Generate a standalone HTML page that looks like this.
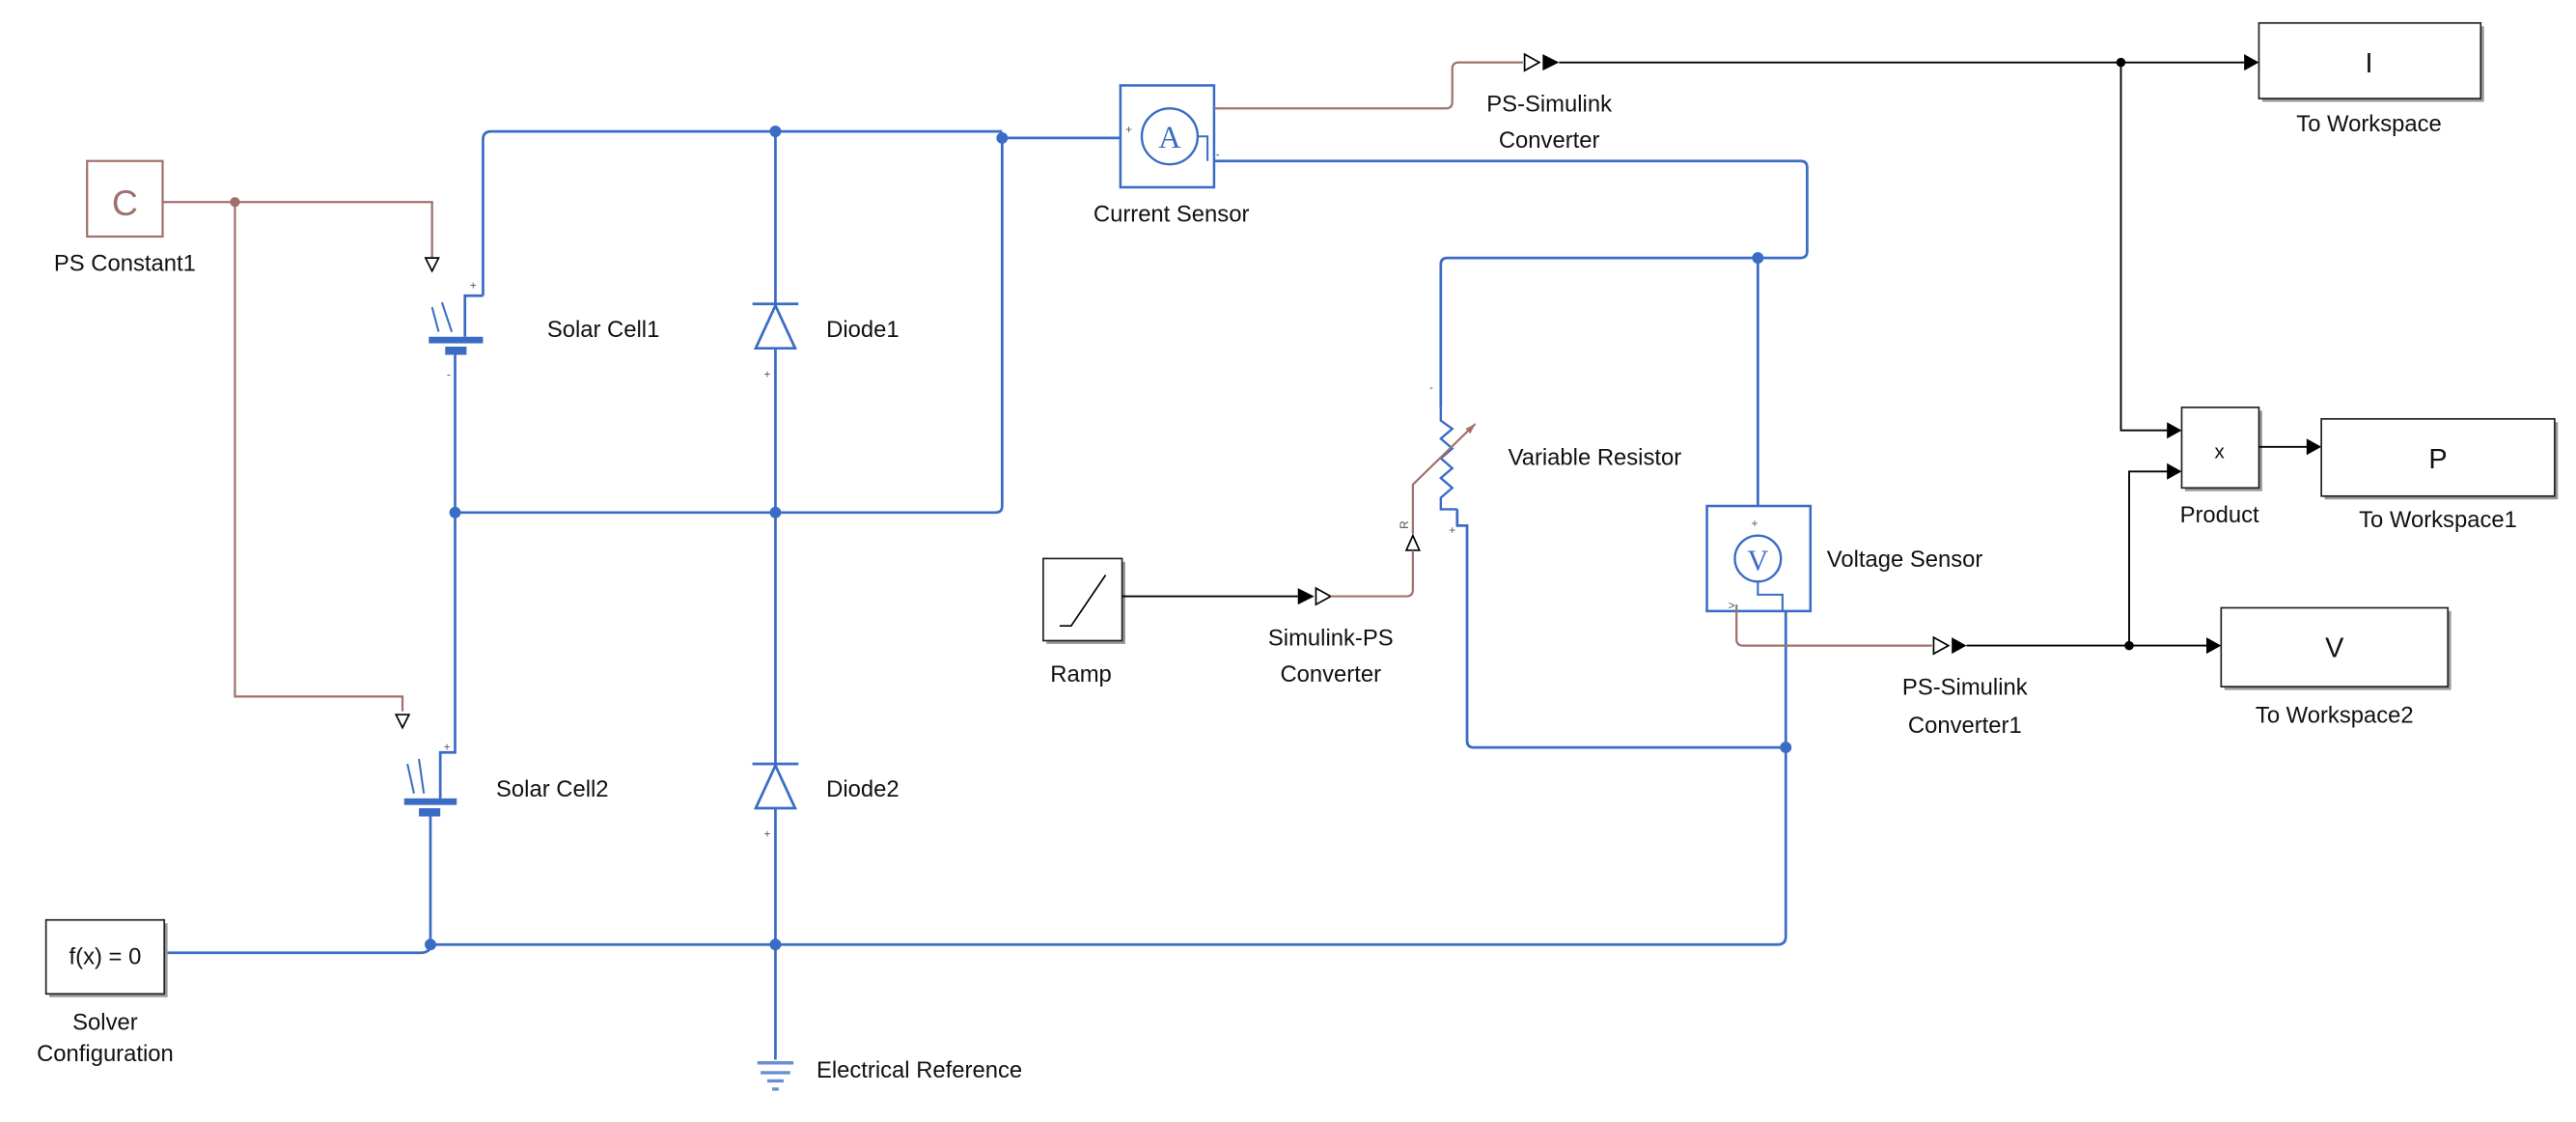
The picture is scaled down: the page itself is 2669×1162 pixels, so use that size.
<!DOCTYPE html>
<html><head><meta charset="utf-8"><style>
html,body{margin:0;padding:0;background:#fff}
svg{display:block}
text{font-family:"Liberation Sans",Arial,sans-serif;font-size:14px;fill:#111}
.b{stroke:#3a6cc6;stroke-width:1.6;fill:none}
.r{stroke:#a0706c;stroke-width:1.3;fill:none}
.k{stroke:#000;stroke-width:1.1;fill:none}
.box{fill:#fff;stroke:#222;stroke-width:1}
.sh{fill:#999}
.sm{font-size:7px;fill:#555}
</style></head><body>
<svg width="2669" height="1162" viewBox="0 0 1568 683" preserveAspectRatio="none" xmlns="http://www.w3.org/2000/svg">
<!-- PS Constant -->
<rect x="53" y="98" width="46" height="46" fill="#fff" stroke="#a0706c" stroke-width="1.3"/>
<text x="76" y="131" text-anchor="middle" style="font-size:22px;fill:#a0706c">C</text>
<text x="76" y="165" text-anchor="middle">PS Constant1</text>
<path class="r" d="M99 123 H263 V157"/>
<path class="r" d="M143 123 V424 H245 V433"/>
<circle cx="143" cy="123" r="3" fill="#a0706c"/>
<path d="M259 157 L267 157 L263 165 Z" fill="#fff" stroke="#000" stroke-width="1"/>
<path d="M241 435 L249 435 L245 443 Z" fill="#fff" stroke="#000" stroke-width="1"/>

<!-- Solar cell 1 -->
<path class="b" d="M294 180 V85 Q294 80 299 80 H610"/>
<path class="b" d="M294 180 H283 V205"/>
<rect x="261" y="205" width="33" height="4" fill="#3a6cc6"/>
<rect x="271" y="211" width="13" height="5" fill="#3a6cc6"/>
<path class="b" d="M277 216 V312"/>
<path class="b" style="stroke-width:1.2" d="M263 187 L267 202 M269 184 L275 202"/>
<text x="286" y="176" class="sm">+</text><text x="272" y="230" class="sm">-</text>
<text x="333" y="205">Solar Cell1</text>

<!-- Diodes -->
<path class="b" d="M472 80 V645"/>
<path d="M458 185 H486 M472 186 L460 212 H484 Z" fill="#fff" stroke="#3a6cc6" stroke-width="1.6"/>
<text x="503" y="205">Diode1</text>
<text x="465" y="230" class="sm">+</text>
<path d="M458 465 H486 M472 466 L460 492 H484 Z" fill="#fff" stroke="#3a6cc6" stroke-width="1.6"/>
<text x="503" y="485">Diode2</text>
<text x="465" y="510" class="sm">+</text>

<path class="b" d="M610 84 H683"/>
<path class="b" d="M610 84 V308 Q610 312 606 312 H277"/>
<circle cx="472" cy="80" r="3.5" fill="#3a6cc6"/>
<circle cx="610" cy="84" r="3.5" fill="#3a6cc6"/>
<circle cx="277" cy="312" r="3.5" fill="#3a6cc6"/>
<circle cx="472" cy="312" r="3.5" fill="#3a6cc6"/>

<!-- Solar cell 2 -->
<path class="b" d="M277 312 V458 H268 V486"/>
<rect x="246" y="486" width="32" height="4" fill="#3a6cc6"/>
<rect x="255" y="492" width="13" height="5" fill="#3a6cc6"/>
<path class="b" d="M262 497 V575"/>
<path class="b" style="stroke-width:1.2" d="M248 465 L252 483 M255 462 L258 483"/>
<text x="270" y="457" class="sm">+</text>
<text x="302" y="485">Solar Cell2</text>

<!-- bottom rail -->
<path class="b" d="M100 580 H256 Q262 580 262 575 H1082 Q1087 575 1087 570 V455"/>
<circle cx="262" cy="575" r="3.5" fill="#3a6cc6"/>
<circle cx="472" cy="575" r="3.5" fill="#3a6cc6"/>
<rect x="30" y="562" width="72" height="45" class="sh"/>
<rect x="28" y="560" width="72" height="45" class="box"/>
<text x="64" y="587" text-anchor="middle">f(x) = 0</text>
<text x="64" y="627" text-anchor="middle">Solver</text>
<text x="64" y="646" text-anchor="middle">Configuration</text>
<path d="M461 647 H483 M463 653 H481 M467 658 H477 M470 663 H474" stroke="#6a8fd0" stroke-width="2"/>
<text x="497" y="656">Electrical Reference</text>

<!-- Current sensor -->
<rect x="682" y="52" width="57" height="62" fill="#fff" stroke="#3a6cc6" stroke-width="1.5"/>
<circle cx="712" cy="83" r="17" fill="#fff" stroke="#3a6cc6" stroke-width="1.4"/>
<text x="712" y="90" text-anchor="middle" style="font-size:19px;fill:#3a6cc6;font-family:'Liberation Serif',serif">A</text>
<path class="b" style="stroke-width:1.2" d="M729 83 H735 V98"/>
<text x="685" y="81" class="sm">+</text><text x="740" y="96" class="sm">-</text>
<text x="713" y="135" text-anchor="middle">Current Sensor</text>
<path class="r" d="M739 66 H880 Q884 66 884 62 V42 Q884 38 888 38 H927"/>
<path d="M928 33 L937 38 L928 43 Z" fill="#fff" stroke="#000"/>
<path d="M939 33 L949 38 L939 43 Z" fill="#000"/>
<path class="k" d="M949 38 H1366"/>
<path d="M1366 33 L1375 38 L1366 43 Z" fill="#000"/>
<circle cx="1291" cy="38" r="2.8" fill="#000"/>
<text x="943" y="68" text-anchor="middle">PS-Simulink</text>
<text x="943" y="90" text-anchor="middle">Converter</text>

<path class="b" d="M739 98 H1096 Q1100 98 1100 102 V153 Q1100 157 1096 157 H881 Q877 157 877 161 V248"/>
<circle cx="1070" cy="157" r="3.5" fill="#3a6cc6"/>
<path class="b" d="M1070 157 V308"/>
<!-- resistor -->
<path class="b" style="stroke-width:1.4" d="M877 248 V256 L884 261 L877 267 L884 273 L877 279 L884 285 L877 291 L884 297 L877 303 V310 H887"/>
<text x="870" y="238" class="sm">-</text><text x="882" y="325" class="sm">+</text>
<path class="b" d="M887 310 V320 H893 V451 Q893 455 897 455 H1087"/>
<circle cx="1087" cy="455" r="3.5" fill="#3a6cc6"/>
<path class="r" d="M860 325 V295 L898 258"/>
<path d="M898 258 L892 261 L895 264 Z" fill="#a0706c"/>
<path d="M856 335 L864 335 L860 326 Z" fill="#fff" stroke="#000"/>
<text x="857" y="322" class="sm" transform="rotate(-90 857 322)">R</text>
<text x="918" y="283">Variable Resistor</text>

<!-- Ramp -->
<rect x="637" y="342" width="48" height="50" class="sh"/>
<rect x="635" y="340" width="48" height="50" class="box"/>
<path d="M645 381 H652 L673 350" stroke="#000" fill="none"/>
<text x="658" y="415" text-anchor="middle">Ramp</text>
<path class="k" d="M683 363 H790"/>
<path d="M790 358 L800 363 L790 368 Z" fill="#000"/>
<path d="M801 358 L810 363 L801 368 Z" fill="#fff" stroke="#000"/>
<path class="r" d="M810 363 H856 Q860 363 860 359 V335"/>
<text x="810" y="393" text-anchor="middle">Simulink-PS</text>
<text x="810" y="415" text-anchor="middle">Converter</text>

<!-- Voltage sensor -->
<rect x="1039" y="308" width="63" height="64" fill="#fff" stroke="#3a6cc6" stroke-width="1.5"/>
<circle cx="1070" cy="340" r="14" fill="#fff" stroke="#3a6cc6" stroke-width="1.4"/>
<text x="1070" y="347" text-anchor="middle" style="font-size:18px;fill:#3a6cc6;font-family:'Liberation Serif',serif">V</text>
<path class="b" style="stroke-width:1.2" d="M1070 354 V362 H1085 V372"/>
<text x="1066" y="321" class="sm">+</text><text x="1052" y="371" class="sm">&gt;</text>
<text x="1112" y="345">Voltage Sensor</text>
<path class="b" d="M1087 372 V455"/>
<path class="r" d="M1057 368 V389 Q1057 393 1061 393 H1176"/>
<path d="M1177 388 L1186 393 L1177 398 Z" fill="#fff" stroke="#000"/>
<path d="M1188 388 L1197 393 L1188 398 Z" fill="#000"/>
<path class="k" d="M1197 393 H1343"/>
<path d="M1343 388 L1352 393 L1343 398 Z" fill="#000"/>
<circle cx="1296" cy="393" r="2.8" fill="#000"/>
<text x="1196" y="423" text-anchor="middle">PS-Simulink</text>
<text x="1196" y="446" text-anchor="middle">Converter1</text>

<!-- product -->
<path class="k" d="M1291 38 V262 H1320"/>
<path d="M1319 257 L1328 262 L1319 267 Z" fill="#000"/>
<path class="k" d="M1296 393 V287 H1320"/>
<path d="M1319 282 L1328 287 L1319 292 Z" fill="#000"/>
<rect x="1330" y="250" width="47" height="49" class="sh"/>
<rect x="1328" y="248" width="47" height="49" class="box"/>
<text x="1351" y="279" text-anchor="middle" style="font-size:12px">x</text>
<text x="1351" y="318" text-anchor="middle">Product</text>
<path class="k" d="M1375 272 H1405"/>
<path d="M1404 267 L1413 272 L1404 277 Z" fill="#000"/>

<!-- workspaces -->
<rect x="1377" y="16" width="135" height="46" class="sh"/>
<rect x="1375" y="14" width="135" height="46" class="box"/>
<text x="1442" y="44" text-anchor="middle" style="font-size:17px">I</text>
<text x="1442" y="80" text-anchor="middle">To Workspace</text>

<rect x="1415" y="257" width="142" height="47" class="sh"/>
<rect x="1413" y="255" width="142" height="47" class="box"/>
<text x="1484" y="285" text-anchor="middle" style="font-size:17px">P</text>
<text x="1484" y="321" text-anchor="middle">To Workspace1</text>

<rect x="1354" y="372" width="138" height="48" class="sh"/>
<rect x="1352" y="370" width="138" height="48" class="box"/>
<text x="1421" y="400" text-anchor="middle" style="font-size:17px">V</text>
<text x="1421" y="440" text-anchor="middle">To Workspace2</text>
</svg>
</body></html>
